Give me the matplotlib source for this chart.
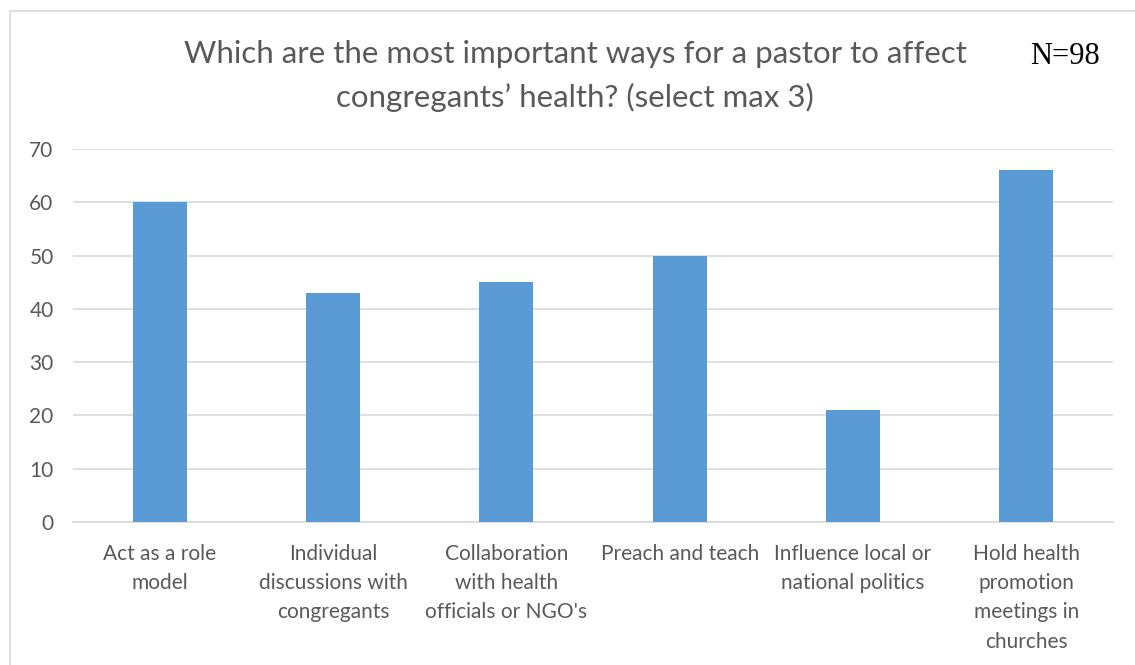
import matplotlib.pyplot as plt
from matplotlib.patches import Rectangle

categories = ["Act as a role\nmodel",
              "Individual\ndiscussions with\ncongregants",
              "Collaboration\nwith health\nofficials or NGO's",
              "Preach and teach",
              "Influence local or\nnational politics",
              "Hold health\npromotion\nmeetings in\nchurches"]
counts = [60, 43, 45, 50, 21, 66]
yticks = [0, 10, 20, 30, 40, 50, 60, 70]

grey = "#595959"
plt.rcParams['font.family'] = ['Lato', 'DejaVu Sans']

fig = plt.figure(figsize=(11.35, 6.65), dpi=100)
ax = fig.add_axes([73/1135, 1 - 522/665, (1113 - 73)/1135, (522 - 149)/665])

x = range(len(counts))
ax.bar(x, counts, width=0.31, color="#5B9BD5", zorder=3)
ax.set_xlim(-0.5, len(counts) - 0.5)
ax.set_ylim(0, 70)
ax.set_yticks(yticks)
ax.set_xticks(list(x))
ax.set_xticklabels(categories, fontsize=15, color=grey, linespacing=1.57,
                   va="top")
ax.tick_params(axis="y", labelsize=15, labelcolor=grey, length=0, pad=14)
ax.tick_params(axis="x", length=0, pad=16)
ax.grid(axis="y", color="#D9D9D9", linewidth=1.2, zorder=0)
for side in ["top", "right", "left"]:
    ax.spines[side].set_visible(False)
ax.spines["bottom"].set_color("#D9D9D9")
ax.spines["bottom"].set_linewidth(1.2)

fig.text(575/1135, 1 - 76/665,
         "Which are the most important ways for a pastor to affect\ncongregants\u2019 health? (select max 3)",
         ha="center", va="center", fontsize=22.5, color=grey, linespacing=1.6)
fig.text(1065/1135, 1 - 56/665, "N=98", ha="center", va="center",
         fontsize=22, family="Liberation Serif", color="black")

# chart frame
fig.patches.append(Rectangle((10/1135, -0.1), 1.2, 1 - 11/665 + 0.1,
                             transform=fig.transFigure, fill=False,
                             edgecolor="#D9D9D9", linewidth=1.2))

fig.savefig("out.png", dpi=100)
